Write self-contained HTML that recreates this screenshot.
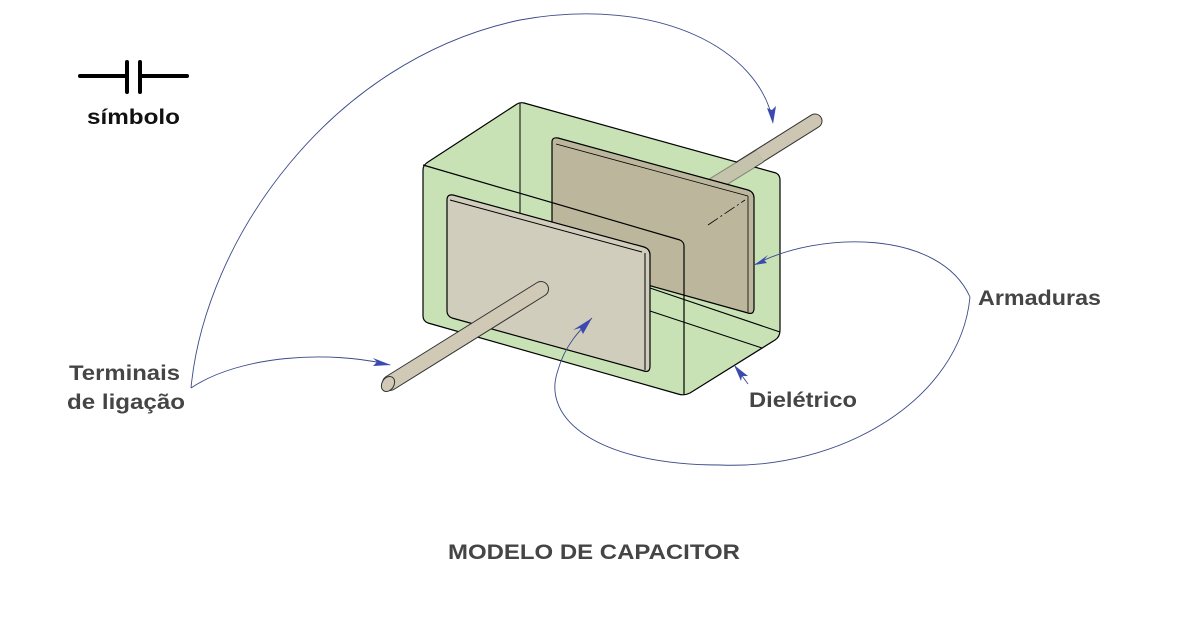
<!DOCTYPE html>
<html><head><meta charset="utf-8"><style>
html,body{margin:0;padding:0;background:#fff;}
svg{display:block;}
text{font-family:"Liberation Sans",Arial,sans-serif;font-weight:bold;fill:#454545;}
</style></head><body>
<svg width="1188" height="626" viewBox="0 0 1188 626" xmlns="http://www.w3.org/2000/svg">
<!-- symbol -->
<g stroke="#000" stroke-width="4" stroke-linecap="round">
<line x1="80" y1="76" x2="127" y2="76"/><line x1="140" y1="76" x2="187" y2="76"/>
<line x1="127" y1="62" x2="127" y2="92"/><line x1="140" y1="62" x2="140" y2="92"/>
</g>
<text x="87" y="124" font-size="21" textLength="93" lengthAdjust="spacingAndGlyphs" style="fill:#111">símbolo</text>

<!-- back rod -->
<line x1="705" y1="190" x2="815" y2="121" stroke="#333" stroke-width="15" stroke-linecap="round"/>
<line x1="705" y1="190" x2="815" y2="121" stroke="#cdc6b3" stroke-width="13" stroke-linecap="round"/>

<!-- box -->
<path d="M423,170 Q423,165 428,162 L517,104 Q520,102 524,103 L776,173 Q780,175 780,180 L780,330 Q780,337 775,340 L690,393 Q684,396 678,394 L428,323 Q423,321 423,316 Z" fill="#c8e2b6" stroke="#000" stroke-width="1.2"/>
<!-- rod seen through dielectric -->
<line x1="708" y1="188" x2="760" y2="156" stroke="#333" stroke-width="15" stroke-linecap="butt" opacity="0.5"/>
<line x1="708" y1="188" x2="760" y2="156" stroke="#c6c3ad" stroke-width="13" stroke-linecap="butt"/>
<line x1="520" y1="103" x2="520" y2="213" stroke="#000" stroke-width="1"/>

<!-- back plate -->
<path d="M552,142 Q552,137 558,138 L748,190 Q754,192 754,198 L754,308 Q754,315 748,313 L558,260 L552,258 Z" fill="#bcb79c" stroke="#000" stroke-width="1.2"/>
<line x1="556" y1="144" x2="748" y2="196" stroke="#000" stroke-width="0.8"/>
<line x1="748" y1="196" x2="748" y2="312" stroke="#000" stroke-width="0.8"/>
<line x1="708" y1="225" x2="745" y2="200" stroke="#000" stroke-width="0.8" stroke-dasharray="12,3,2,3"/>

<line x1="423" y1="165" x2="680" y2="240" stroke="#000" stroke-width="1.2"/>
<path d="M680,240 Q684,242 684,246 L684,395" fill="none" stroke="#000" stroke-width="1.2"/>
<line x1="650" y1="288" x2="780" y2="332" stroke="#000" stroke-width="1.1"/>
<line x1="650" y1="311" x2="762" y2="348" stroke="#000" stroke-width="1.1"/>

<!-- front plate -->
<path d="M447,200 Q447,194 453,195 L644,247 Q650,249 650,255 L650,366 Q650,373 644,371 L452,318 Q447,316 447,311 Z" fill="#d1cdbd" stroke="#000" stroke-width="1.2"/>
<line x1="450" y1="200" x2="642" y2="252" stroke="#000" stroke-width="1"/>
<line x1="645" y1="253" x2="645" y2="370" stroke="#000" stroke-width="1"/>

<!-- front rod -->
<line x1="390" y1="383" x2="541" y2="289" stroke="#333" stroke-width="16" stroke-linecap="round"/>
<line x1="390" y1="383" x2="541" y2="289" stroke="#cfc9b6" stroke-width="14" stroke-linecap="round"/>
<ellipse cx="388" cy="384" rx="6" ry="8" transform="rotate(32 388 384)" fill="#cfc9b6" stroke="#333" stroke-width="1"/>

<!-- connectors -->
<g fill="none" stroke="#3a4a8a" stroke-width="0.9">
<path d="M191,388 C205,240 330,60 520,20 C660,-5 760,50 773,122"/>
<path d="M191,388 C240,355 330,350 390,365"/>
<path d="M970,297 C940,230 820,230 754,265"/>
<path d="M970,297 C960,400 840,470 720,465 C600,465 540,420 558,370 C565,345 580,330 592,318"/>
<path d="M748,384 L735,366"/>
</g>
<g fill="#3a4ab0">
<path d="M773,124 L767,108 L772,110 L776,106 Z"/>
<path d="M391,365 L373,358 L377,362 L373,366 Z"/>
<path d="M754,265 L768,255 L764,260 L767,263 Z"/>
<path d="M592,318 L583,334 L580,328 L573,330 Z"/>
<path d="M734,365 L748,376 L742,376 L741,381 Z"/>
</g>

<text x="69" y="380" font-size="21" textLength="111" lengthAdjust="spacingAndGlyphs">Terminais</text>
<text x="67" y="409" font-size="21" textLength="118" lengthAdjust="spacingAndGlyphs">de ligação</text>
<text x="978" y="305" font-size="21" textLength="123" lengthAdjust="spacingAndGlyphs">Armaduras</text>
<text x="749" y="407" font-size="21" textLength="108" lengthAdjust="spacingAndGlyphs">Dielétrico</text>
<text x="448" y="559" font-size="21" textLength="292" lengthAdjust="spacingAndGlyphs">MODELO DE CAPACITOR</text>
</svg>
</body></html>
